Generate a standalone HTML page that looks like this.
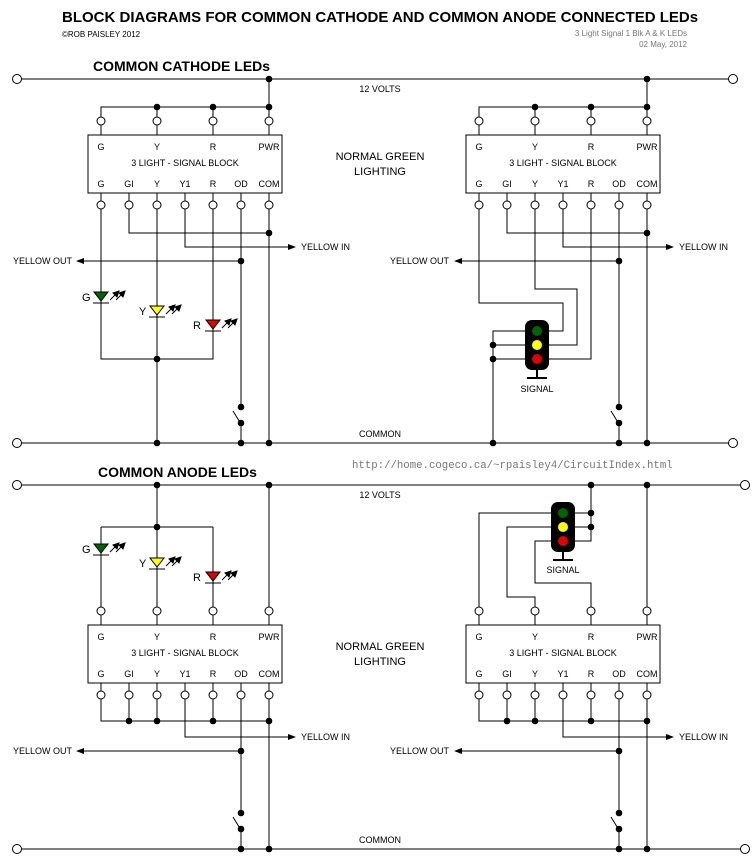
<!DOCTYPE html>
<html><head><meta charset="utf-8"><style>
html,body{margin:0;padding:0;background:#fff}
svg{display:block}
text{font-family:"Liberation Sans",sans-serif;font-size:9px;fill:#000}
.b{font-weight:bold}
</style></head><body>
<svg width="752" height="858" viewBox="0 0 752 858" xmlns="http://www.w3.org/2000/svg">
<defs>
<circle id="d" r="3.3" fill="#000"/>
<circle id="p" r="4" fill="#fff" stroke="#000" stroke-width="1"/>
<circle id="o" r="4.5" fill="#fff" stroke="#000" stroke-width="1"/>
<g id="ledarrows" stroke="#000" stroke-width="1" fill="#000">
<line x1="110" y1="300" x2="117" y2="293"/><path d="M119 291 L113 293 L117 297 Z"/>
<line x1="116" y1="300" x2="123" y2="293"/><path d="M125 291 L119 293 L123 297 Z"/>
</g>
<g id="sig">
<rect x="-12" y="-25" width="24" height="50" rx="7" fill="#000"/>
<circle cx="0" cy="-14" r="5" fill="#006400"/>
<circle cx="0" cy="0" r="5" fill="#ffff00"/>
<circle cx="0" cy="14" r="5" fill="#e00000"/>
<line x1="0" y1="25" x2="0" y2="33" stroke="#000" stroke-width="2"/>
<line x1="-10" y1="33" x2="10" y2="33" stroke="#000" stroke-width="2"/>
</g>
<g id="sw" stroke="#000" stroke-width="1"><line x1="-8" y1="-10" x2="0" y2="3"/></g>
<g id="block">
<rect x="88" y="0" width="194" height="58" fill="#fff" stroke="#000"/>
<text x="101" y="15" text-anchor="middle">G</text>
<text x="157" y="15" text-anchor="middle">Y</text>
<text x="213" y="15" text-anchor="middle">R</text>
<text x="269" y="15" text-anchor="middle">PWR</text>
<text x="185" y="31" text-anchor="middle">3 LIGHT - SIGNAL BLOCK</text>
<text x="101" y="52" text-anchor="middle">G</text>
<text x="129" y="52" text-anchor="middle">GI</text>
<text x="157" y="52" text-anchor="middle">Y</text>
<text x="185" y="52" text-anchor="middle">Y1</text>
<text x="213" y="52" text-anchor="middle">R</text>
<text x="241" y="52" text-anchor="middle">OD</text>
<text x="269" y="52" text-anchor="middle">COM</text>
</g>
</defs>

<text x="62" y="22" style="font-size:15px" class="b">BLOCK DIAGRAMS FOR COMMON CATHODE AND COMMON ANODE CONNECTED LEDs</text>
<text x="62" y="37" style="font-size:8px">©ROB PAISLEY 2012</text>
<text x="687" y="36" text-anchor="end" style="font-size:8px;fill:#777">3 Light Signal 1 Blk A &amp; K LEDs</text>
<text x="687" y="47" text-anchor="end" style="font-size:8px;fill:#777">02 May, 2012</text>

<text x="93" y="71" class="b" style="font-size:14px">COMMON CATHODE LEDs</text>
<text x="98" y="477" class="b" style="font-size:14px">COMMON ANODE LEDs</text>
<text x="352" y="468" style="font-size:10.7px;fill:#777;font-family:'Liberation Mono',monospace">http://home.cogeco.ca/~rpaisley4/CircuitIndex.html</text>

<text x="380" y="92" text-anchor="middle">12 VOLTS</text>
<text x="380" y="437" text-anchor="middle">COMMON</text>
<text x="380" y="498" text-anchor="middle">12 VOLTS</text>
<text x="380" y="843" text-anchor="middle">COMMON</text>
<text x="380" y="160" text-anchor="middle" style="font-size:11px">NORMAL GREEN</text>
<text x="380" y="175" text-anchor="middle" style="font-size:11px">LIGHTING</text>
<text x="380" y="650" text-anchor="middle" style="font-size:11px">NORMAL GREEN</text>
<text x="380" y="665" text-anchor="middle" style="font-size:11px">LIGHTING</text>

<g stroke="#000" stroke-width="1" fill="none">
<line x1="17" y1="79" x2="733" y2="79"/>
<line x1="17" y1="443" x2="733" y2="443"/>
<line x1="17" y1="485" x2="745" y2="485"/>
<line x1="17" y1="849" x2="745" y2="849"/>

<path d="M269 79 V107 M101 121 V107 H269 M157 107 V121 M213 107 V121 M269 107 V121"/>
<path d="M101 121 V135 M157 121 V135 M213 121 V135 M269 121 V135"/>
<path d="M101 193 V205 M129 193 V205 M157 193 V205 M185 193 V205 M213 193 V205 M241 193 V205 M269 193 V205"/>
<path d="M129 205 V233 H269 M185 205 V247 H290 M241 205 V407 M241 423 V443 M269 205 V443 M241 261 H82"/>
<path d="M101 205 V359 H213 V205 M157 205 V443"/>

<path d="M647 79 V107 M479 121 V107 H647 M535 107 V121 M591 107 V121 M647 107 V121"/>
<path d="M479 121 V135 M535 121 V135 M591 121 V135 M647 121 V135"/>
<path d="M479 193 V205 M507 193 V205 M535 193 V205 M563 193 V205 M591 193 V205 M619 193 V205 M647 193 V205"/>
<path d="M507 205 V233 H647 M563 205 V247 H668 M619 205 V407 M619 423 V443 M647 205 V443 M619 261 H460"/>
<path d="M479 205 V303 H563 V331 H549 M535 205 V289 H577 V345 H549 M591 205 V359 H549"/>
<path d="M525 331 H493 V443 M493 345 H525 M493 359 H525"/>

<path d="M157 485 V527 M101 527 H213 M101 527 V611 M157 527 V611 M213 527 V611 M269 485 V611"/>
<path d="M101 611 V625 M157 611 V625 M213 611 V625 M269 611 V625"/>
<path d="M101 683 V695 M129 683 V695 M157 683 V695 M185 683 V695 M213 683 V695 M241 683 V695 M269 683 V695"/>
<path d="M101 695 V721 H269 M129 695 V721 M157 695 V721 M213 695 V721 M269 695 V849"/>
<path d="M185 695 V737 H290 M241 695 V813 M241 829 V849 M241 751 H82"/>

<path d="M591 485 V541 H575 M575 513 H591 M575 527 H591 M647 485 V611"/>
<path d="M551 513 H479 V611 M551 527 H507 V597 H535 V611 M551 541 H535 V583 H591 V611"/>
<path d="M479 611 V625 M535 611 V625 M591 611 V625 M647 611 V625"/>
<path d="M479 683 V695 M507 683 V695 M535 683 V695 M563 683 V695 M591 683 V695 M619 683 V695 M647 683 V695"/>
<path d="M479 695 V721 H647 M507 695 V721 M535 695 V721 M591 695 V721 M647 695 V849"/>
<path d="M563 695 V737 H668 M619 695 V813 M619 829 V849 M619 751 H460"/>
</g>

<use href="#block" x="0" y="135"/>
<use href="#block" x="378" y="135"/>
<use href="#block" x="0" y="625"/>
<use href="#block" x="378" y="625"/>

<path d="M288 244 L296 247 L288 250 Z M666 244 L674 247 L666 250 Z M288 734 L296 737 L288 740 Z M666 734 L674 737 L666 740 Z"/>
<path d="M84 258 L76 261 L84 264 Z M462 258 L454 261 L462 264 Z M84 748 L76 751 L84 754 Z M462 748 L454 751 L462 754 Z"/>
<text x="301" y="250">YELLOW IN</text><text x="679" y="250">YELLOW IN</text>
<text x="301" y="740">YELLOW IN</text><text x="679" y="740">YELLOW IN</text>
<text x="13" y="264">YELLOW OUT</text><text x="390" y="264">YELLOW OUT</text>
<text x="13" y="754">YELLOW OUT</text><text x="390" y="754">YELLOW OUT</text>

<g stroke="#000" stroke-width="1">
<path d="M94 292 H108 L101 301 Z" fill="#006400"/><line x1="93" y1="303" x2="109" y2="303"/>
<path d="M150 306 H164 L157 315 Z" fill="#ffff00"/><line x1="149" y1="317" x2="165" y2="317"/>
<path d="M206 320 H220 L213 329 Z" fill="#e00000"/><line x1="205" y1="331" x2="221" y2="331"/>
<path d="M94 544 H108 L101 553 Z" fill="#006400"/><line x1="93" y1="555" x2="109" y2="555"/>
<path d="M150 558 H164 L157 567 Z" fill="#ffff00"/><line x1="149" y1="569" x2="165" y2="569"/>
<path d="M206 572 H220 L213 581 Z" fill="#e00000"/><line x1="205" y1="583" x2="221" y2="583"/>
</g>
<use href="#ledarrows" x="0" y="0"/><use href="#ledarrows" x="56" y="14"/><use href="#ledarrows" x="112" y="28"/>
<use href="#ledarrows" x="0" y="252"/><use href="#ledarrows" x="56" y="266"/><use href="#ledarrows" x="112" y="280"/>
<text x="82" y="301" style="font-size:11px">G</text>
<text x="139" y="315" style="font-size:11px">Y</text>
<text x="193" y="329" style="font-size:11px">R</text>
<text x="82" y="553" style="font-size:11px">G</text>
<text x="139" y="567" style="font-size:11px">Y</text>
<text x="193" y="581" style="font-size:11px">R</text>

<use href="#sig" x="537" y="345"/>
<text x="537" y="392" text-anchor="middle">SIGNAL</text>
<use href="#sig" x="563" y="527"/>
<text x="563" y="573" text-anchor="middle">SIGNAL</text>

<use href="#sw" x="241" y="421"/><use href="#sw" x="619" y="421"/>
<use href="#sw" x="241" y="827"/><use href="#sw" x="619" y="827"/>

<g>
<use href="#p" x="101" y="121"/><use href="#p" x="157" y="121"/><use href="#p" x="213" y="121"/><use href="#p" x="269" y="121"/>
<use href="#p" x="479" y="121"/><use href="#p" x="535" y="121"/><use href="#p" x="591" y="121"/><use href="#p" x="647" y="121"/>
<use href="#p" x="101" y="611"/><use href="#p" x="157" y="611"/><use href="#p" x="213" y="611"/><use href="#p" x="269" y="611"/>
<use href="#p" x="479" y="611"/><use href="#p" x="535" y="611"/><use href="#p" x="591" y="611"/><use href="#p" x="647" y="611"/>
<use href="#p" x="101" y="205"/><use href="#p" x="129" y="205"/><use href="#p" x="157" y="205"/><use href="#p" x="185" y="205"/><use href="#p" x="213" y="205"/><use href="#p" x="241" y="205"/><use href="#p" x="269" y="205"/>
<use href="#p" x="479" y="205"/><use href="#p" x="507" y="205"/><use href="#p" x="535" y="205"/><use href="#p" x="563" y="205"/><use href="#p" x="591" y="205"/><use href="#p" x="619" y="205"/><use href="#p" x="647" y="205"/>
<use href="#p" x="101" y="695"/><use href="#p" x="129" y="695"/><use href="#p" x="157" y="695"/><use href="#p" x="185" y="695"/><use href="#p" x="213" y="695"/><use href="#p" x="241" y="695"/><use href="#p" x="269" y="695"/>
<use href="#p" x="479" y="695"/><use href="#p" x="507" y="695"/><use href="#p" x="535" y="695"/><use href="#p" x="563" y="695"/><use href="#p" x="591" y="695"/><use href="#p" x="619" y="695"/><use href="#p" x="647" y="695"/>
</g>

<use href="#o" x="17" y="79"/><use href="#o" x="733" y="79"/>
<use href="#o" x="17" y="443"/><use href="#o" x="733" y="443"/>
<use href="#o" x="17" y="485"/><use href="#o" x="745" y="485"/>
<use href="#o" x="17" y="849"/><use href="#o" x="745" y="849"/>

<g>
<use href="#d" x="269" y="79"/><use href="#d" x="157" y="107"/><use href="#d" x="213" y="107"/><use href="#d" x="269" y="107"/>
<use href="#d" x="269" y="233"/><use href="#d" x="241" y="261"/><use href="#d" x="157" y="359"/>
<use href="#d" x="241" y="407"/><use href="#d" x="241" y="423"/><use href="#d" x="157" y="443"/><use href="#d" x="241" y="443"/><use href="#d" x="269" y="443"/>
<use href="#d" x="647" y="79"/><use href="#d" x="535" y="107"/><use href="#d" x="591" y="107"/><use href="#d" x="647" y="107"/>
<use href="#d" x="647" y="233"/><use href="#d" x="619" y="261"/>
<use href="#d" x="493" y="345"/><use href="#d" x="493" y="359"/>
<use href="#d" x="619" y="407"/><use href="#d" x="619" y="423"/><use href="#d" x="493" y="443"/><use href="#d" x="619" y="443"/><use href="#d" x="647" y="443"/>
<use href="#d" x="157" y="485"/><use href="#d" x="269" y="485"/><use href="#d" x="157" y="527"/>
<use href="#d" x="129" y="721"/><use href="#d" x="157" y="721"/><use href="#d" x="213" y="721"/><use href="#d" x="269" y="721"/>
<use href="#d" x="241" y="751"/><use href="#d" x="241" y="813"/><use href="#d" x="241" y="829"/><use href="#d" x="241" y="849"/><use href="#d" x="269" y="849"/>
<use href="#d" x="591" y="485"/><use href="#d" x="647" y="485"/><use href="#d" x="591" y="513"/><use href="#d" x="591" y="527"/>
<use href="#d" x="507" y="721"/><use href="#d" x="535" y="721"/><use href="#d" x="591" y="721"/><use href="#d" x="647" y="721"/>
<use href="#d" x="619" y="751"/><use href="#d" x="619" y="813"/><use href="#d" x="619" y="829"/><use href="#d" x="619" y="849"/><use href="#d" x="647" y="849"/>
</g>
</svg>
</body></html>
